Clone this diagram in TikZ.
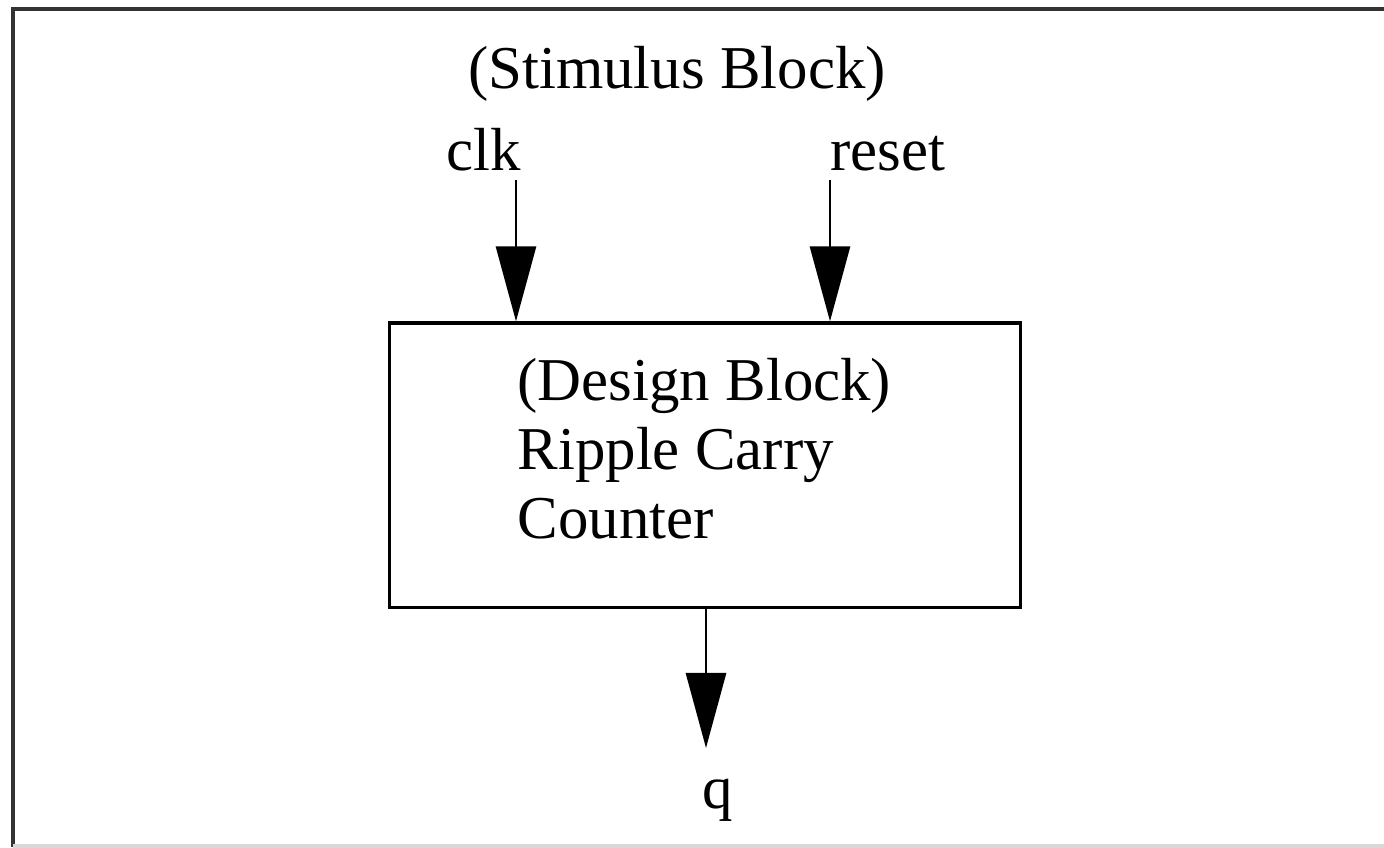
\documentclass[tikz,border=0pt]{standalone}
\usepackage{fontspec}
\setmainfont{Liberation Serif}
\usetikzlibrary{arrows.meta}

\tikzset{
  wire/.style={line width=0.8pt, -{Triangle[length=7.5mm, width=4mm]}},
  lbl/.style={font=\fontsize{17.3}{19.6}\selectfont, inner sep=0pt},
  blockbox/.style={draw, line width=0.9pt, minimum width=6.3cm, minimum height=2.84cm, inner sep=0pt}
}

\begin{document}
\begin{tikzpicture}[x=0.01cm, y=-0.01cm]
  \useasboundingbox (0,0) rectangle (1384,847);
  \clip (0,0) rectangle (1384,847);

  % Rahmen
  \draw[line width=1.1pt, black!80] (13,847) -- (13,9) -- (1400,9);
  \draw[line width=1.1pt, black!15] (13,846) -- (1400,846);

  \node[lbl, anchor=base] (stim) at (677,88) {(Stimulus Block)};
  \node[lbl, anchor=base] (clk) at (484,170) {clk};
  \node[lbl, anchor=base] (reset) at (888,170) {reset};

  % Design Block
  \node[blockbox] (rcc) at (705,465) {};
  \node[lbl, anchor=base west, align=left] (rcctxt) at (517,538)
    {(Design Block)\\Ripple Carry\\Counter};

  \coordinate (clkin) at (516,180);
  \coordinate (resetin) at (830,180);
  \draw[wire] (clkin) -- (clkin |- rcc.north);
  \draw[wire] (resetin) -- (resetin |- rcc.north);

  \node[lbl, anchor=base] (q) at (718,808) {q};
  \draw[wire] (rcc.south -| 706,0) -- (706,748);
\end{tikzpicture}
\end{document}
